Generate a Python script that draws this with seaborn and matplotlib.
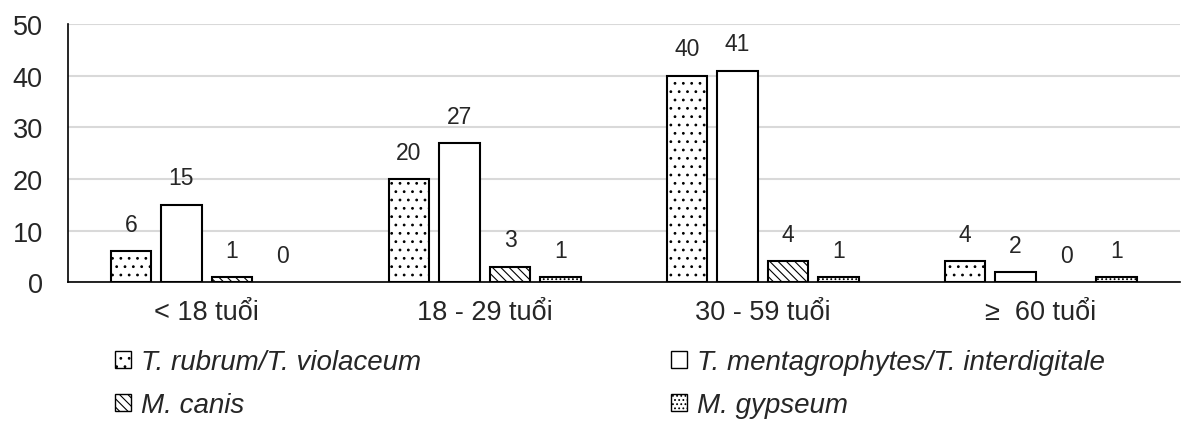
import matplotlib
matplotlib.use("Agg")
import matplotlib.pyplot as plt
import seaborn as sns
import pandas as pd
from matplotlib.patches import Patch

categories = ["< 18 tuổi", "18 - 29 tuổi", "30 - 59 tuổi", "≥  60 tuổi"]
series = ["T. rubrum/T. violaceum", "T. mentagrophytes/T. interdigitale", "M. canis", "M. gypseum"]
rubrum = [6, 20, 40, 4]
mentag = [15, 27, 41, 2]
canis = [1, 3, 4, 0]
gypseum = [0, 1, 1, 1]
hatches = ["..", "", "\\\\\\\\", "...."]

sns.set_theme(style="white")
plt.rcParams['font.family'] = ['Liberation Sans', 'DejaVu Sans']
plt.rcParams['hatch.linewidth'] = 0.8

rows = []
for s, vals in zip(series, [rubrum, mentag, canis, gypseum]):
    for c, v in zip(categories, vals):
        rows.append({"cat": c, "series": s, "value": v})
df = pd.DataFrame(rows)

fig = plt.figure(figsize=(11.87, 4.27), dpi=100)
ax = fig.add_axes([0.057, 0.337, 0.937, 0.604])
sns.barplot(data=df, x="cat", y="value", hue="series", order=categories, hue_order=series,
            palette=["white"] * 4, edgecolor="black", linewidth=1.5, width=0.727, gap=0.2,
            legend=False, ax=ax)

for cont, h in zip(ax.containers, hatches):
    for bar in cont:
        bar.set_hatch(h)
        if bar.get_height() == 0:
            bar.set_linewidth(0)
    ax.bar_label(cont, padding=11, fontsize=16.5)

ax.set_ylim(0, 50)
ax.set_xlim(-0.5, 3.5)
ax.set_yticks(range(0, 51, 10))
ax.yaxis.grid(True, color="#d9d9d9", linewidth=1.5)
ax.set_axisbelow(True)
ax.set_xlabel("")
ax.set_ylabel("")
for sp in ["top", "right"]:
    ax.spines[sp].set_visible(False)
ax.spines["left"].set_color("black")
ax.spines["bottom"].set_color("black")
ax.spines["left"].set_linewidth(1.2)
ax.spines["bottom"].set_linewidth(1.2)
ax.tick_params(axis="x", labelsize=19.5, length=0, pad=12)
ax.tick_params(axis="y", labelsize=19.5, length=0, pad=18)

order = [0, 2, 1, 3]
handles = [Patch(facecolor="white", edgecolor="black", hatch=hatches[i], label=series[i]) for i in order]
leg = fig.legend(handles=handles, loc="upper left", bbox_to_anchor=(0.097, 0.18), ncol=2,
                 frameon=False, prop={"style": "italic", "size": 20}, handlelength=0.58,
                 handleheight=0.58, handletextpad=0.36, columnspacing=9.0, labelspacing=0.62,
                 borderpad=0, borderaxespad=0)

fig.savefig("out.png", dpi=100)
